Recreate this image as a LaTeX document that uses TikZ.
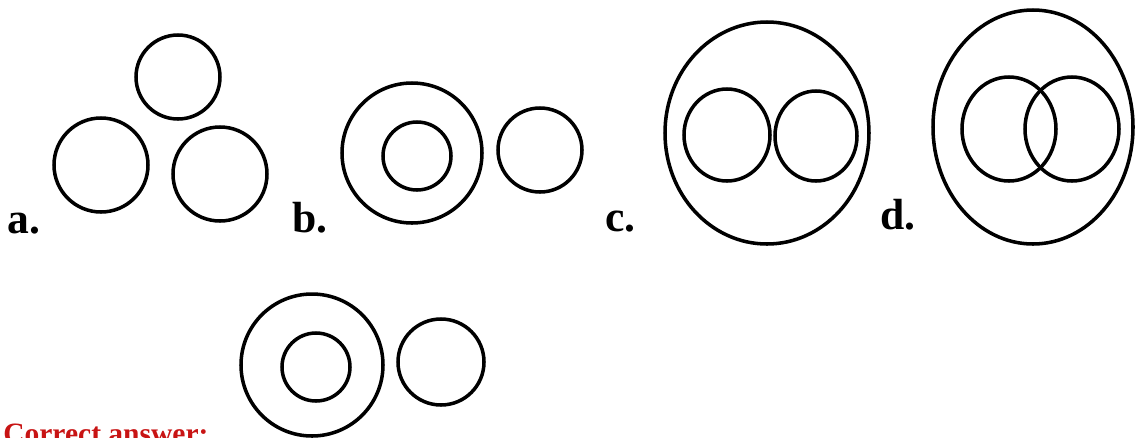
\documentclass[tikz,border=0pt]{standalone}
\usepackage{fontspec}
\setmainfont{Liberation Serif}
\usepackage{xcolor}
\usetikzlibrary{positioning}
\definecolor{answerred}{RGB}{200,20,20}
\tikzstyle{ring} = [line width=2.5pt, draw=black]
\tikzstyle{choice} = [anchor=base west, inner sep=0pt,
font=\fontsize{31pt}{31pt}\selectfont\bfseries]
\tikzstyle{answer} = [anchor=base west, inner sep=0pt,
text=answerred,
font=\fontsize{21pt}{21pt}\selectfont\bfseries]

\begin{document}
\begin{tikzpicture}[x=0.025cm, y=-0.025cm]
        \useasboundingbox (0,0) rectangle (1140,437);
        \clip (0,0) rectangle (1140,437);

        % --- Opcion a: tres circulos separados ---
        \draw [ring] (178,77) circle [radius=42];
        \draw [ring] (101,165) circle [radius=47];
        \draw [ring] (220,174) circle [radius=47];
        \node (lbl_a) [choice] at (7,233) {a.};

        % --- Opcion b: uno dentro de otro, uno aparte ---
        \draw [ring] (412,153) circle [radius=70];
        \draw [ring] (417,156) circle [radius=34];
        \draw [ring] (540,150) circle [radius=42];
        \node (lbl_b) [choice] at (292,232) {b.};

        % --- Opcion c: dos separados dentro de uno ---
        \draw [ring] (767,133) ellipse [x radius=102, y radius=111];
        \draw [ring] (727,135) ellipse [x radius=43, y radius=46];
        \draw [ring] (816,136) ellipse [x radius=41, y radius=45];
        \node (lbl_c) [choice] at (605,231) {c.};

        % --- Opcion d: dos que se cortan dentro de uno ---
        \draw [ring] (1033,127) ellipse [x radius=100, y radius=117];
        \draw [ring] (1009,129) ellipse [x radius=47, y radius=52];
        \draw [ring] (1072,129) ellipse [x radius=47, y radius=52];
        \node (lbl_d) [choice] at (880,229) {d.};

        % --- Respuesta correcta ---
        \draw [ring] (312,365) circle [radius=71];
        \draw [ring] (316,367) circle [radius=34];
        \draw [ring] (441,362) circle [radius=43];
        \node (correct) [answer] at (3,443) {Correct answer:};

    \end{tikzpicture}
\end{document}
